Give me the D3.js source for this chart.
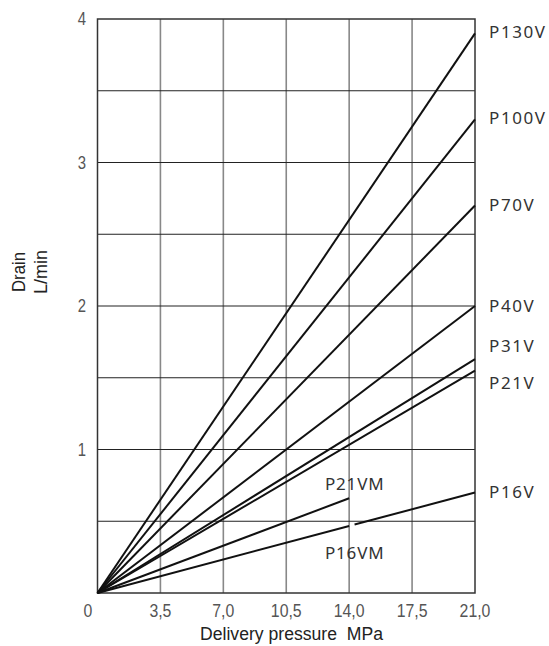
<!DOCTYPE html>
<html><head><meta charset="utf-8">
<script src="https://cdn.jsdelivr.net/npm/d3@7"></script>
<style>
html,body{margin:0;padding:0;background:#fff;}
svg{display:block;}
</style></head>
<body>
<svg id="chart" width="549" height="646"></svg>
<script>
// ---- data ----
const xTickValues = [0, 3.5, 7.0, 10.5, 14.0, 17.5, 21.0];
const xTickLabels = ["0", "3,5", "7,0", "10,5", "14,0", "17,5", "21,0"];
const yTickValues = [1, 2, 3, 4];
const yTickLabels = ["1", "2", "3", "4"];
const seriesNames = ["P130V", "P100V", "P70V", "P40V", "P31V", "P21V", "P16V", "P21VM", "P16VM"];
// start pressure / drain and end pressure / drain of each line
const seriesStartX = [0, 0, 0, 0, 0, 0, 14.3, 0, 0];
const seriesStartY = [0, 0, 0, 0, 0, 0, 0.477, 0, 0];
const seriesEndX   = [21, 21, 21, 21, 21, 21, 21, 14, 14];
const seriesEndY   = [3.90, 3.30, 2.70, 2.00, 1.63, 1.55, 0.70, 0.66, 0.467];

const svg = d3.select("#chart");
const L = 97.5, R = 475, T = 19, B = 593;
const x = d3.scaleLinear().domain([0, 21]).range([L, R]);
const y = d3.scaleLinear().domain([0, 4]).range([B, T]);

// grid: vertical
const g = svg.append("g");
g.selectAll(".vg").data(d3.range(3.5, 21, 3.5)).enter().append("line")
  .attr("x1", d => x(d)).attr("x2", d => x(d)).attr("y1", T).attr("y2", B)
  .attr("stroke", "#888").attr("stroke-width", 1.6);
// grid: horizontal
g.selectAll(".hg").data(d3.range(0.5, 4, 0.5)).enter().append("line")
  .attr("x1", L).attr("x2", R).attr("y1", d => y(d)).attr("y2", d => y(d))
  .attr("stroke", "#222").attr("stroke-width", 1.1);
// frame
g.append("rect").attr("x", L).attr("y", T).attr("width", R - L).attr("height", B - T)
  .attr("fill", "none").attr("stroke", "#333").attr("stroke-width", 1.5);

// series lines
const line = d3.line().x(d => x(d[0])).y(d => y(d[1]));
seriesNames.forEach((n, i) => {
  svg.append("path")
    .attr("d", line([[seriesStartX[i], seriesStartY[i]], [seriesEndX[i], seriesEndY[i]]]))
    .attr("stroke", "#111").attr("stroke-width", 2).attr("fill", "none");
});

const narrowFont = "'Liberation Sans',Arial,sans-serif";
function condense(sel, k) {
  sel.each(function () {
    const w = this.getComputedTextLength();
    d3.select(this).attr("textLength", w * k).attr("lengthAdjust", "spacingAndGlyphs");
  });
}

// y ticks
svg.selectAll(".yt").data(yTickValues).enter().append("text")
  .attr("x", 86).attr("y", d => y(d) + 6)
  .attr("text-anchor", "end").attr("font-family", narrowFont).attr("font-size", 17.5)
  .attr("fill", "#555").text((d, i) => yTickLabels[i]).call(condense, 0.85);
// x ticks
svg.selectAll(".xt").data(xTickValues).enter().append("text")
  .attr("x", d => d === 0 ? x(d) - 9.5 : x(d)).attr("y", 617)
  .attr("text-anchor", "middle").attr("font-family", narrowFont).attr("font-size", 18)
  .attr("fill", "#555").text((d, i) => xTickLabels[i]).call(condense, 0.88);

// axis titles
svg.append("text").attr("x", 291.5).attr("y", 640).attr("text-anchor", "middle")
  .attr("font-family", narrowFont).attr("font-size", 17.5).attr("fill", "#222")
  .attr("textLength", 183).attr("lengthAdjust", "spacingAndGlyphs")
  .style("white-space", "pre")
  .text("Delivery pressure  MPa");
svg.append("text").attr("transform", "translate(25,272) rotate(-90)").attr("text-anchor", "middle")
  .attr("font-family", narrowFont).attr("font-size", 17.5).attr("fill", "#222")
  .attr("textLength", 40).attr("lengthAdjust", "spacingAndGlyphs").text("Drain");
svg.append("text").attr("transform", "translate(47,272) rotate(-90)").attr("text-anchor", "middle")
  .attr("font-family", narrowFont).attr("font-size", 17.5).attr("fill", "#222")
  .attr("textLength", 44).attr("lengthAdjust", "spacingAndGlyphs").text("L/min");

// series labels
const labelFont = "'Noto Sans','DejaVu Sans',sans-serif";
const labelX = [489, 489, 489, 489, 489, 489, 489, 325, 325];
const labelY = [38, 124, 211, 312, 352, 389, 498, 490, 559];
seriesNames.forEach((n, i) => {
  svg.append("text").attr("x", labelX[i]).attr("y", labelY[i])
    .attr("font-family", labelFont).attr("font-size", 17).attr("fill", "#333")
    .attr("letter-spacing", n.endsWith("VM") ? 0.8 : 1.6)
    .text(n);
});
</script>
</body></html>
